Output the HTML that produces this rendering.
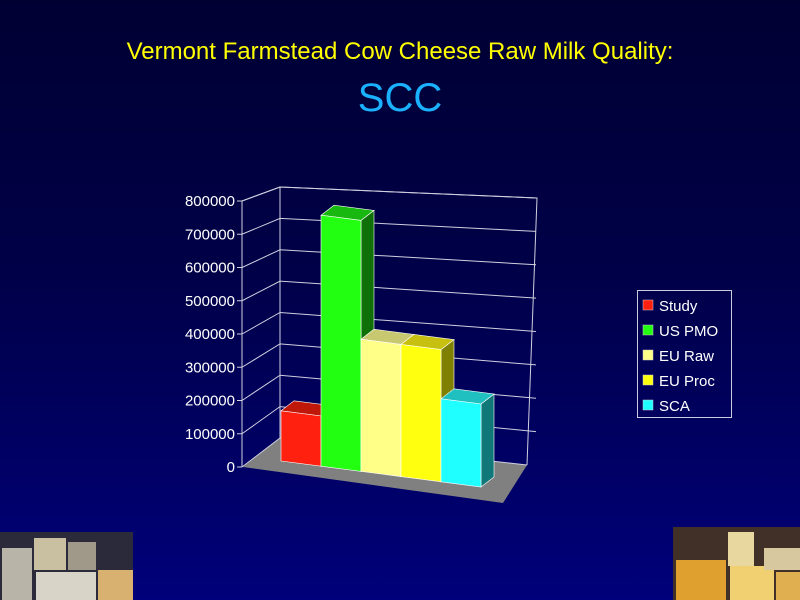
<!DOCTYPE html>
<html><head><meta charset="utf-8"><style>
body{margin:0;width:800px;height:600px;overflow:hidden;background:linear-gradient(#000033 0%,#000048 45%,#00007a 100%);font-family:"Liberation Sans",sans-serif;}
svg{position:absolute;left:0;top:0}
</style></head><body>
<svg width="800" height="600">
<text x="400" y="59" text-anchor="middle" fill="#ffff00" font-size="24" font-family="Liberation Sans, sans-serif">Vermont Farmstead Cow Cheese Raw Milk Quality:</text>
<text x="400" y="111" text-anchor="middle" fill="#1ab2ff" font-size="40" font-family="Liberation Sans, sans-serif">SCC</text>
<g id="chart"></g>
<g>
<rect x="637.5" y="290.5" width="94" height="127" fill="none" stroke="#ccccdd" stroke-width="1"/>
<g id="legend"></g>
</g>
<g>
<rect x="0" y="532" width="133" height="68" fill="#2a2a3a"/>
<rect x="2" y="548" width="30" height="52" fill="#b8b4a8"/>
<rect x="34" y="538" width="32" height="32" fill="#c8c0a0"/>
<rect x="36" y="572" width="60" height="28" fill="#d8d4c8"/>
<rect x="68" y="542" width="28" height="28" fill="#a09888"/>
<rect x="98" y="570" width="35" height="30" fill="#d8b070"/>
</g>
<g>
<rect x="673" y="527" width="127" height="73" fill="#403028"/>
<rect x="676" y="560" width="50" height="40" fill="#e0a030"/>
<rect x="728" y="532" width="26" height="34" fill="#e8d8a0"/>
<rect x="730" y="566" width="44" height="34" fill="#f0d070"/>
<rect x="764" y="548" width="36" height="22" fill="#d8c8a0"/>
<rect x="776" y="572" width="24" height="28" fill="#e0b050"/>
</g>
</svg>
<script>
const categories=["Study","US PMO","EU Raw","EU Proc","SCA"];
const values=[150000,750000,395000,395000,248000];
const ticks=[0,100000,200000,300000,400000,500000,600000,700000,800000];
const colors=["#ff2010","#22ff10","#ffff88","#ffff10","#20ffff"];
const topCol=["#c01808","#18b810","#c8c870","#c8c010","#20c0c0"];
const sideCol=["#901008","#107008","#909050","#808000","#107878"];
const NS="http://www.w3.org/2000/svg";
const g=document.getElementById('chart');
function mk(t,a,p){const e=document.createElementNS(NS,t);for(const k in a)e.setAttribute(k,a[k]);(p||g).appendChild(e);return e;}
// axis functions
const front=v=>467-v/800000*266;           // front-left axis
const backL=v=>438-v/800000*251;           // back-left wall line
const backR=v=>465-v/800000*267;           // back-right wall line
const k=251/750000;
const barX=i=>281+i*40;
const baseY=x=>461+(x-281)*0.13;
// floor
let fl=mk('polygon',{points:"243,467 280,438 527,465 503,503",fill:"#808080"});

// walls
let w=mk('polyline',{points:`242,${front(800000)} 280,${backL(800000)} 537,${backR(800000)} 527,465`,fill:"none",stroke:"#d0d0e0","stroke-width":1});

mk('line',{x1:280,y1:backL(800000),x2:280,y2:438,stroke:"#d0d0e0","stroke-width":1});
mk('line',{x1:242,y1:front(0),x2:242,y2:front(800000),stroke:"#d0d0e0","stroke-width":1});
ticks.forEach(t=>{
  const gl=mk('polyline',{points:`242,${front(t)} 280,${backL(t)} ${t===0?527:536},${t===0?465:backR(t)}`,fill:"none",stroke:"#d0d0e0","stroke-width":1});
  
  mk('line',{x1:237,y1:front(t),x2:242,y2:front(t),stroke:"#d0d0e0"});
  const tx=mk('text',{x:235,y:front(t)+5,"text-anchor":"end",fill:"#fff","font-size":15,"font-family":"Liberation Sans, sans-serif"});
  tx.textContent=t;
  
});
const dx=13,dy=-10,bw=40;
values.forEach((v,i)=>{
  const x=barX(i),yb=baseY(x),yb2=baseY(x+bw),h=v*k;
  const gb=mk('g',{});
  
  
  mk('polygon',{points:`${x+bw},${yb2-h} ${x+bw+dx},${yb2-h+dy} ${x+bw+dx},${yb2+dy} ${x+bw},${yb2}`,fill:sideCol[i],stroke:"#fff","stroke-width":0.6},gb);
  mk('polygon',{points:`${x},${yb-h} ${x+dx},${yb-h+dy} ${x+bw+dx},${yb2-h+dy} ${x+bw},${yb2-h}`,fill:topCol[i],stroke:"#fff","stroke-width":0.6},gb);
  mk('polygon',{points:`${x},${yb} ${x},${yb-h} ${x+bw},${yb2-h} ${x+bw},${yb2}`,fill:colors[i],stroke:"#fff","stroke-width":0.6},gb);
});
const lg=document.getElementById('legend');
categories.forEach((c,i)=>{
  const y=305+i*25;
  const e=mk('g',{},lg);
  
  
  mk('rect',{x:643,y:y-5,width:10,height:10,fill:colors[i],stroke:"#ccc","stroke-width":0.5},e);
  const t=mk('text',{x:659,y:y+6,fill:"#fff","font-size":15,"font-family":"Liberation Sans, sans-serif"},e);
  t.textContent=c;
});
</script>
</body></html>
